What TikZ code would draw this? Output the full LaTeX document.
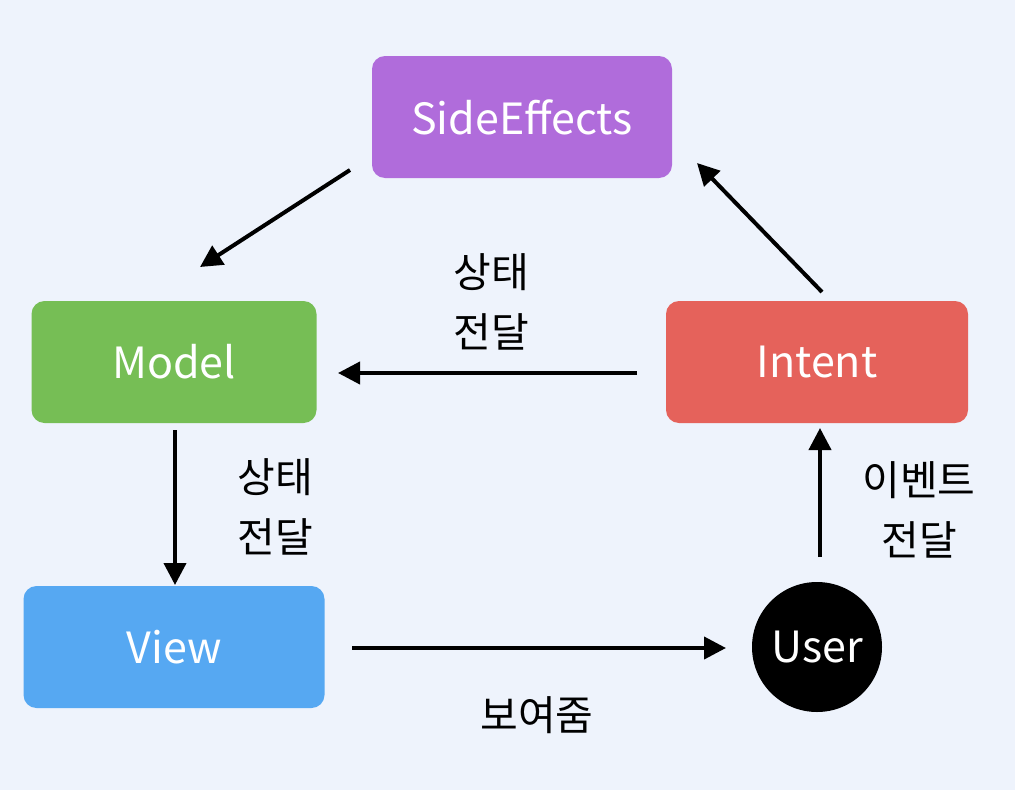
\documentclass[tikz,border=0pt]{standalone}
\usepackage{fontspec}
\setmainfont{Noto Sans CJK KR}
\usetikzlibrary{arrows.meta}
\definecolor{bg}{HTML}{EEF3FC}
\definecolor{cpurple}{HTML}{B06CDB}
\definecolor{cgreen}{HTML}{76BE55}
\definecolor{cred}{HTML}{E5625B}
\definecolor{cblue}{HTML}{56A8F2}
\tikzset{
  box/.style={rounded corners=13pt, draw=none, text=white, font=\fontsize{43}{50}\selectfont, minimum width=300pt, minimum height=122pt, inner sep=0pt},
  conn/.style={line width=4pt, -{Triangle[length=22pt,width=22pt]}},
  lbl/.style={font=\fontsize{41}{60}\selectfont, align=center, text=black}
}
\begin{document}
\begin{tikzpicture}[x=1pt,y=-1pt]
\fill[bg] (0,0) rectangle (1015,790);
\useasboundingbox (0,0) rectangle (1015,790);
\node[box, fill=cpurple] (se) at (522,117) {SideEffects};
\node[box, fill=cgreen, minimum width=285pt] (model) at (174,362) {Model};
\node[box, fill=cred, minimum width=302pt] (intent) at (817,362) {Intent};
\node[box, fill=cblue, minimum width=301pt] (view) at (174,647) {View};
\node[circle, fill=black, text=white, minimum size=130pt, inner sep=0pt, font=\fontsize{43}{50}\selectfont] (user) at (817,647) {User};
\coordinate (a1s) at (350,170); \coordinate (a1e) at (200,267);
\coordinate (a2s) at (822,292); \coordinate (a2e) at (697,163);
\coordinate (a3s) at (637,373); \coordinate (a3e) at (338,373);
\coordinate (a4s) at (175,430); \coordinate (a4e) at (175,585);
\coordinate (a5s) at (352,648); \coordinate (a5e) at (726,648);
\coordinate (a6s) at (820,557); \coordinate (a6e) at (820,428);
\draw[conn] (a1s) -- (a1e);
\draw[conn] (a2s) -- (a2e);
\draw[conn] (a3s) -- (a3e);
\draw[conn] (a4s) -- (a4e);
\draw[conn] (a5s) -- (a5e);
\draw[conn] (a6s) -- (a6e);
\node[lbl] (l1) at (491,302) {상태\\전달};
\node[lbl] (l2) at (275,507) {상태\\전달};
\node[lbl] (l3) at (919,510) {이벤트\\전달};
\node[lbl] (l4) at (537,715) {보여줌};
\end{tikzpicture}
\end{document}
